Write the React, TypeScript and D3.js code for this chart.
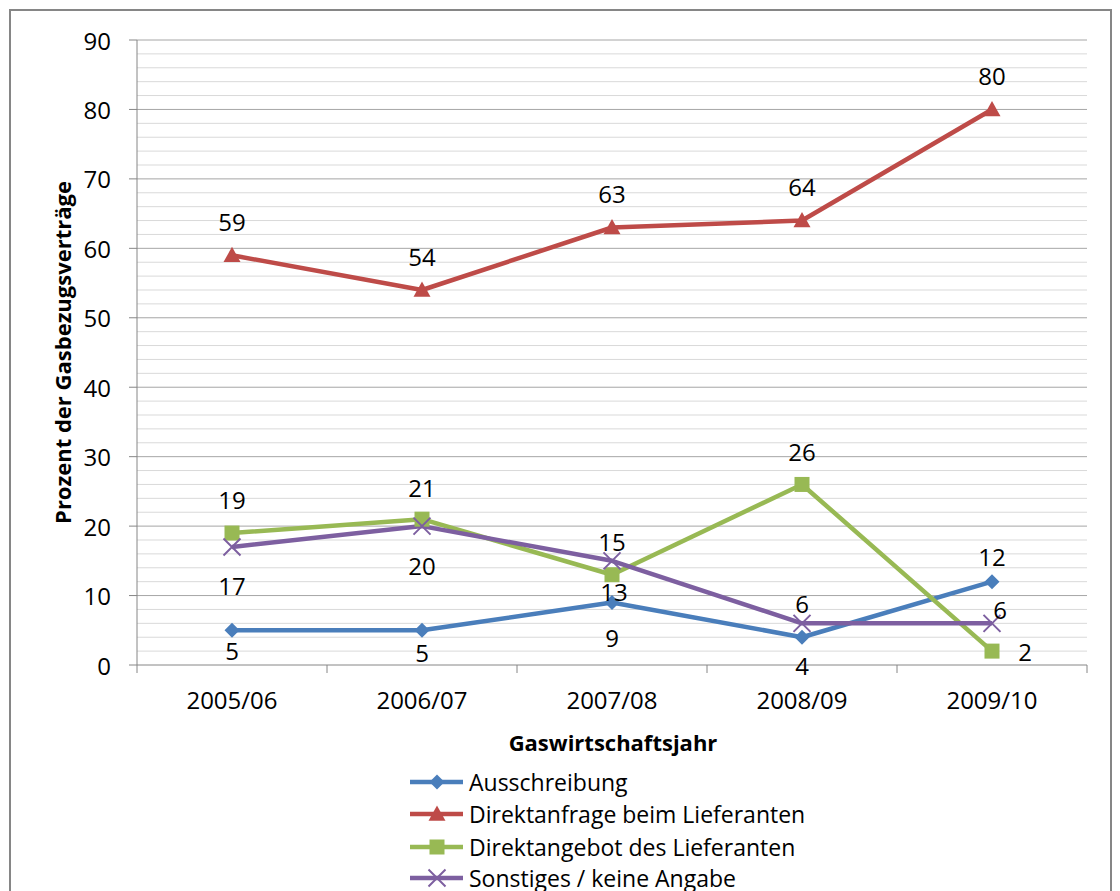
import React from 'react';
import * as d3 from 'd3';

// Gaswirtschaftsjahre
const years = ['2005/06', '2006/07', '2007/08', '2008/09', '2009/10'];

const ausschreibung = [5, 5, 9, 4, 12];
const direktanfrage = [59, 54, 63, 64, 80];
const direktangebot = [19, 21, 13, 26, 2];
const sonstiges = [17, 20, 15, 6, 6];

const seriesNames = [
  'Ausschreibung',
  'Direktanfrage beim Lieferanten',
  'Direktangebot des Lieferanten',
  'Sonstiges / keine Angabe',
];

const yTicks = [0, 10, 20, 30, 40, 50, 60, 70, 80, 90];

// label placement per point [dx, dy] relative to the marker (Excel put them all over the place)
const labelOffsets: [number, number][][] = [
  [[0, 20], [0, 22], [0, 35], [0, 28], [0, -25]],
  [[0, -34], [0, -34], [0, -34], [0, -34], [0, -34]],
  [[0, -34], [0, -32], [2, 17], [0, -33], [33, 0]],
  [[0, 39], [0, 39], [0, -19], [0, -20], [8, -14]],
];

const FONT = '"Open Sans", "DejaVu Sans", sans-serif';

const W = 1120;
const H = 891;
const margin = { top: 40, right: 32, bottom: 226, left: 137 };

type Marker = 'diamond' | 'triangle' | 'square' | 'cross';

const seriesStyle: { color: string; marker: Marker }[] = [
  { color: '#4a7ebb', marker: 'diamond' },
  { color: '#be4b48', marker: 'triangle' },
  { color: '#98b954', marker: 'square' },
  { color: '#7d5fa0', marker: 'cross' },
];

function MarkerShape({ type, x, y, color }: { type: Marker; x: number; y: number; color: string }) {
  if (type === 'diamond') {
    const s = 7.5;
    return <path d={`M${x},${y - s}L${x + s},${y}L${x},${y + s}L${x - s},${y}Z`} fill={color} />;
  }
  if (type === 'triangle') {
    const s = 8.5;
    return <path d={`M${x},${y - s}L${x + s},${y + s * 0.8}L${x - s},${y + s * 0.8}Z`} fill={color} />;
  }
  if (type === 'square') {
    const s = 7.5;
    return <rect x={x - s} y={y - s} width={2 * s} height={2 * s} fill={color} />;
  }
  const s = 8.5;
  return (
    <path
      d={`M${x - s},${y - s}L${x + s},${y + s}M${x - s},${y + s}L${x + s},${y - s}`}
      stroke={color}
      strokeWidth={2}
      fill="none"
    />
  );
}

export default function App() {
  const allSeries = [ausschreibung, direktanfrage, direktangebot, sonstiges];

  const x0 = margin.left;
  const x1 = W - margin.right - 1;
  const y0 = H - margin.bottom;
  const y1 = margin.top;

  const x = d3.scaleBand<string>().domain(years).range([x0, x1]);
  const y = d3.scaleLinear().domain([0, 90]).range([y0, y1]);
  const cx = (c: string) => (x(c) ?? 0) + x.bandwidth() / 2;

  const minorTicks = d3.range(0, 91, 2).filter((v) => v % 10 !== 0);

  const line = d3
    .line<number>()
    .x((_d, i) => cx(years[i]))
    .y((d) => y(d));

  const legendY = [782, 814, 847, 878];

  return (
    <svg
      width={W}
      height={H}
      style={{ position: 'absolute', left: 0, top: 0, background: '#fff' }}
      fontFamily={FONT}
    >
      {/* chart frame */}
      <rect x={10} y={10} width={1101} height={900} fill="#fff" stroke="#868686" strokeWidth={2} />

      {/* minor gridlines */}
      {minorTicks.map((t) => (
        <line key={'m' + t} x1={x0} x2={x1} y1={y(t)} y2={y(t)} stroke="#d9d9d9" strokeWidth={1} />
      ))}
      {/* major gridlines */}
      {yTicks.map((t) => (
        <g key={'M' + t}>
          {t > 0 && <line x1={x0} x2={x1} y1={y(t)} y2={y(t)} stroke="#a6a6a6" strokeWidth={1} />}
          <line x1={x0 - 8} x2={x0} y1={y(t)} y2={y(t)} stroke="#868686" strokeWidth={1} />
          <text x={x0 - 26} y={y(t)} textAnchor="end" dominantBaseline="central" fontSize={24} fill="#000">
            {t}
          </text>
        </g>
      ))}

      {/* axes */}
      <line x1={x0} x2={x0} y1={y1} y2={y0} stroke="#868686" strokeWidth={1} />
      <line x1={x0} x2={x1} y1={y0} y2={y0} stroke="#868686" strokeWidth={1} />
      {years.concat(['']).map((c, i) => {
        const xp = x0 + i * x.bandwidth();
        return <line key={'xt' + i} x1={xp} x2={xp} y1={y0} y2={y0 + 8} stroke="#868686" strokeWidth={1} />;
      })}
      {years.map((c) => (
        <text key={c} x={cx(c)} y={y0 + 34} textAnchor="middle" dominantBaseline="central" fontSize={24} fill="#000">
          {c}
        </text>
      ))}

      {/* axis titles */}
      <text
        x={613}
        y={742}
        textAnchor="middle"
        dominantBaseline="central"
        fontSize={22}
        fontWeight="bold"
        fill="#000"
      >
        Gaswirtschaftsjahr
      </text>
      <text
        transform={`translate(62, ${(y0 + y1) / 2}) rotate(-90)`}
        textAnchor="middle"
        dominantBaseline="central"
        fontSize={22}
        fontWeight="bold"
        fill="#000"
      >
        Prozent der Gasbezugsverträge
      </text>

      {/* series lines */}
      {allSeries.map((vals, si) => (
        <path
          key={'l' + si}
          d={line(vals) ?? ''}
          fill="none"
          stroke={seriesStyle[si].color}
          strokeWidth={4.5}
          strokeLinejoin="round"
        />
      ))}
      {/* markers */}
      {allSeries.map((vals, si) =>
        vals.map((v, i) => (
          <MarkerShape
            key={`mk${si}-${i}`}
            type={seriesStyle[si].marker}
            x={cx(years[i])}
            y={y(v)}
            color={seriesStyle[si].color}
          />
        ))
      )}
      {/* data labels */}
      {allSeries.map((vals, si) =>
        vals.map((v, i) => (
          <text
            key={`lb${si}-${i}`}
            x={cx(years[i]) + labelOffsets[si][i][0]}
            y={y(v) + labelOffsets[si][i][1]}
            textAnchor="middle"
            dominantBaseline="central"
            fontSize={24}
            fill="#000"
          >
            {v}
          </text>
        ))
      )}

      {/* legend */}
      {seriesNames.map((name, si) => (
        <g key={name}>
          <line x1={410} x2={463} y1={legendY[si]} y2={legendY[si]} stroke={seriesStyle[si].color} strokeWidth={4.5} />
          <MarkerShape type={seriesStyle[si].marker} x={437} y={legendY[si]} color={seriesStyle[si].color} />
          <text x={469} y={legendY[si]} dominantBaseline="central" fontSize={23} fill="#000">
            {name}
          </text>
        </g>
      ))}
    </svg>
  );
}
